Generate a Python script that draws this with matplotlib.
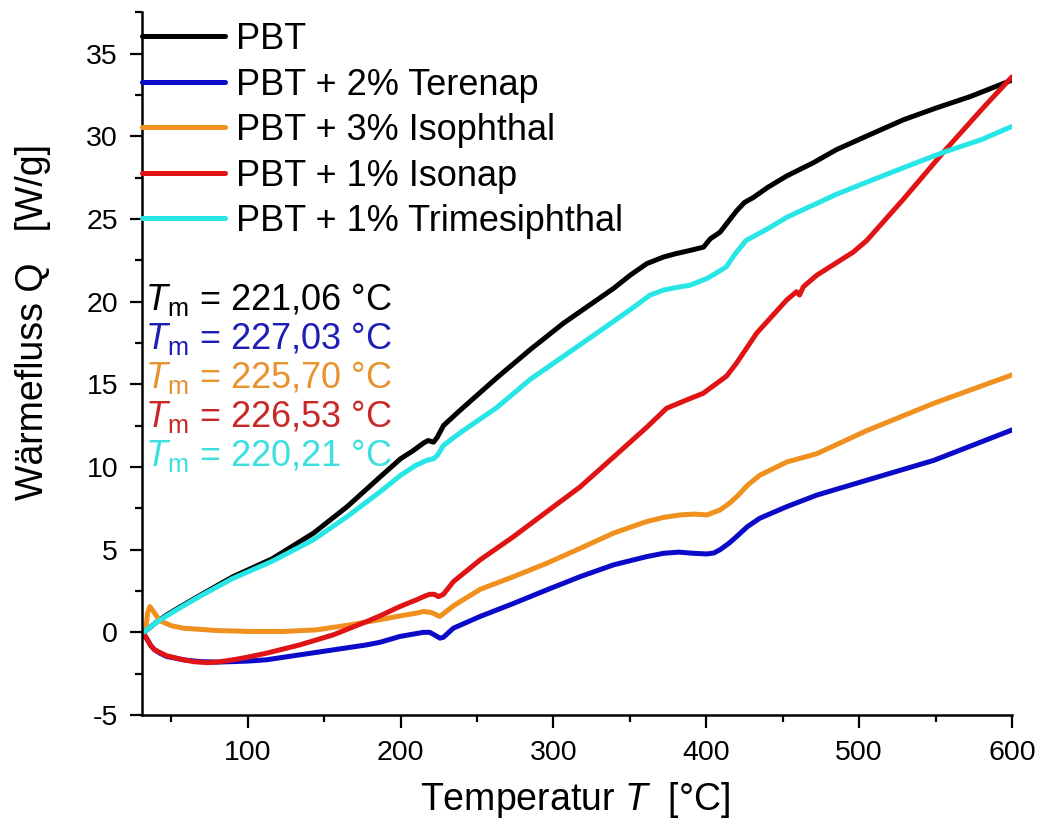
import matplotlib
matplotlib.use("Agg")
import matplotlib.pyplot as plt
from matplotlib.ticker import MultipleLocator

plt.rcParams['font.family'] = ['Liberation Sans', 'DejaVu Sans']
plt.rcParams['mathtext.fontset'] = 'custom'
plt.rcParams['mathtext.rm'] = 'Liberation Sans'
plt.rcParams['mathtext.it'] = 'Liberation Sans:italic'
plt.rcParams['axes.unicode_minus'] = False

# DSC heating curves: temperature [°C] and heat flow [W/g]
t_pbt = [31.5, 34, 40, 47, 55, 69, 90, 116, 143, 165, 186.6, 200, 208.4, 215, 218, 221.5, 224, 228, 235,
         241, 252, 263, 284.8, 306.6, 328.4, 339.3, 350.2, 361.1, 372, 380, 389.5, 398.2, 402.6, 409,
         414, 419.9, 425, 430.8, 440, 452.6, 470, 485.3, 507, 529, 550, 572.6, 600]
q_pbt = [0.0, 0.15, 0.6, 1.05, 1.5, 2.25, 3.35, 4.45, 6.0, 7.6, 9.4, 10.5, 11.0, 11.45, 11.6, 11.5, 11.8,
         12.5, 13.1, 13.6, 14.5, 15.4, 17.1, 18.7, 20.1, 20.8, 21.6, 22.3, 22.7, 22.9, 23.1, 23.3, 23.8,
         24.2, 24.8, 25.5, 26.0, 26.3, 26.9, 27.6, 28.4, 29.2, 30.1, 31.0, 31.7, 32.4, 33.4]

t_tri = [31.5, 34, 40, 47, 55, 69, 90, 116, 143, 165, 186.6, 200, 210, 217, 221.5, 224, 228, 235, 241,
         252, 263, 284.8, 306.6, 328.4, 350, 363.3, 372, 380, 389.5, 400.4, 406, 413, 419, 426, 440,
         452.6, 485.3, 507, 529, 555.7, 580, 600]
q_tri = [0.0, 0.15, 0.6, 1.0, 1.45, 2.2, 3.25, 4.3, 5.6, 7.0, 8.5, 9.5, 10.1, 10.4, 10.5, 10.7, 11.3,
         11.8, 12.2, 12.9, 13.6, 15.3, 16.7, 18.1, 19.5, 20.4, 20.7, 20.85, 21.0, 21.4, 21.7, 22.1, 22.9,
         23.7, 24.4, 25.1, 26.5, 27.3, 28.1, 29.05, 29.8, 30.6]

t_ter = [32, 34, 36.5, 39, 42.5, 47, 57.8, 68.7, 80, 90.5, 100, 112.3, 134.1, 156, 177.7, 186.6, 199.5,
         210, 215, 219, 222, 225.7, 228, 234.5, 252, 273.9, 295.7, 317.5, 339.3, 361, 372, 382, 391.5,
         400.4, 405, 409, 415, 419.9, 427, 435, 452.6, 472.3, 505, 548.8, 600]
q_ter = [-0.1, -0.4, -0.8, -1.05, -1.26, -1.46, -1.66, -1.77, -1.8, -1.77, -1.74, -1.66, -1.36, -1.06,
         -0.76, -0.6, -0.25, -0.08, 0.0, 0.0, -0.15, -0.35, -0.3, 0.25, 0.96, 1.75, 2.57, 3.37, 4.08,
         4.58, 4.78, 4.85, 4.78, 4.74, 4.8, 5.0, 5.4, 5.8, 6.4, 6.9, 7.6, 8.3, 9.2, 10.4, 12.24]

t_iso = [32, 33.5, 34.5, 36, 38, 42.5, 50, 57.8, 79.6, 101.4, 123, 145, 166.8, 188.6, 200, 210.4, 215,
         220, 225.7, 229, 234.5, 252, 273.9, 295.7, 317.5, 339.3, 361, 372, 383, 392, 400.4, 409, 415,
         419.9, 427, 435, 452.6, 472.2, 505, 548.8, 600]
q_iso = [-0.1, 0.4, 1.2, 1.56, 1.3, 0.7, 0.4, 0.25, 0.11, 0.05, 0.05, 0.15, 0.45, 0.8, 1.0, 1.16, 1.26,
         1.2, 0.96, 1.2, 1.6, 2.6, 3.37, 4.18, 5.08, 6.0, 6.7, 6.95, 7.1, 7.15, 7.1, 7.4, 7.8, 8.2, 8.9,
         9.5, 10.3, 10.8, 12.2, 13.85, 15.57]

t_nap = [32, 34, 36.5, 39, 42.5, 47, 57.8, 65, 73, 80, 90.5, 100, 112.3, 134, 156, 177.7, 186.6, 199.5,
         210, 215, 219, 222, 224.7, 228, 234.6, 252, 273.9, 295.7, 317.5, 339.3, 361, 374, 387, 398,
         413.3, 419.9, 433, 452.6, 459, 461, 463.5, 472.3, 496.2, 505, 529, 555.7, 581.9, 600]
q_nap = [-0.1, -0.4, -0.8, -1.05, -1.22, -1.42, -1.66, -1.78, -1.83, -1.8, -1.66, -1.5, -1.26, -0.76,
         -0.15, 0.65, 1.0, 1.56, 1.95, 2.16, 2.3, 2.3, 2.16, 2.3, 3.07, 4.38, 5.79, 7.3, 8.8, 10.6, 12.4,
         13.55, 14.05, 14.46, 15.5, 16.3, 18.1, 20.1, 20.6, 20.4, 20.9, 21.6, 23.0, 23.7, 26.2, 29.1,
         31.8, 33.6]

labels = ["PBT", "PBT + 2% Terenap", "PBT + 3% Isophthal", "PBT + 1% Isonap", "PBT + 1% Trimesiphthal"]
line_colors = ["#000000", "#0a0ac8", "#f0901e", "#e01414", "#28e6e6"]
text_colors = ["#000000", "#1e1eb4", "#e8922e", "#c82828", "#3ce0e0"]
tm_values = ["221,06", "227,03", "225,70", "226,53", "220,21"]

series = [(t_pbt, q_pbt), (t_ter, q_ter), (t_iso, q_iso), (t_nap, q_nap), (t_tri, q_tri)]

fig = plt.figure(figsize=(10.4, 8.25), dpi=100)
ax = fig.add_axes([141.7 / 1040, 1 - 715 / 825, (1012 - 141.7) / 1040, (715 - 12.3) / 825])

for (t, q), lab, col in zip(series, labels, line_colors):
    ax.plot(t, q, color=col, lw=3.6, label=lab, solid_joinstyle='round', solid_capstyle='round')

ax.set_xlim(30.6, 600)
ax.set_ylim(-5, 37.5)
ax.xaxis.set_major_locator(MultipleLocator(100))
ax.xaxis.set_minor_locator(MultipleLocator(50))
ax.yaxis.set_major_locator(MultipleLocator(5))
ax.yaxis.set_minor_locator(MultipleLocator(2.5))
ax.spines['top'].set_visible(False)
ax.spines['right'].set_visible(False)
for s in ('left', 'bottom'):
    ax.spines[s].set_linewidth(1.8)
ax.tick_params(which='major', direction='out', length=9, width=1.6, labelsize=20.5)
ax.tick_params(axis='y', which='major', pad=8)
ax.tick_params(axis='x', which='major', pad=9)
ax.tick_params(which='minor', direction='out', length=5, width=1.6)

leg = ax.legend(loc='upper left', bbox_to_anchor=(0.0, 0.986), frameon=False, fontsize=26,
                handlelength=2.3, handletextpad=0.3, labelspacing=0.29, borderaxespad=0.0,
                borderpad=0.0)

for i, (val, col) in enumerate(zip(tm_values, text_colors)):
    ax.text(32.5, 19.5 - i * 2.36, r"$\mathit{T}_\mathrm{m}$ = " + val + " °C", color=col,
            fontsize=26, ha='left', va='baseline')

fig.text(575 / 1040, 1 - 800 / 825, r"Temperatur $\mathit{T}$  [°C]", fontsize=27,
         ha='center', va='center')
fig.text(33 / 1040, 1 - 322 / 825, "Wärmefluss Q   [W/g]", fontsize=27, rotation=90,
         ha='center', va='center')

fig.savefig("out.png", dpi=100)
